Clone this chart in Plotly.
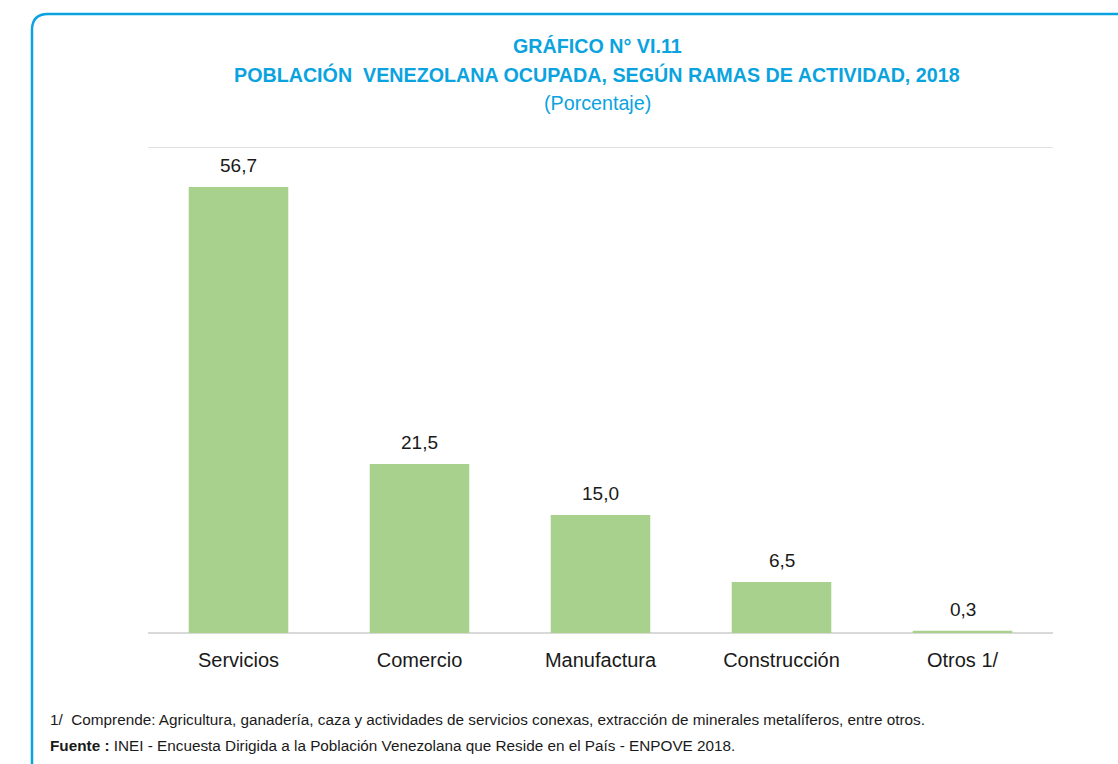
import plotly.graph_objects as go

# Población venezolana ocupada por rama de actividad, 2018 (%)
categorias = ["Servicios", "Comercio", "Manufactura", "Construcción", "Otros 1/"]
porcentajes = [56.7, 21.5, 15.0, 6.5, 0.3]
y_max = 61.8

W, H = 1118, 764
L, R, T, B = 148, 1053, 147, 633  # plot area in pixels

FONT = "Liberation Sans Narrow, Arial Narrow, Liberation Sans, Arial, sans-serif"
AZUL = "#0AA3E0"
VERDE = "#A9D18E"
GRIS = "#D9D9D9"


def px(x):
    return (x - L) / (R - L)


def py(y):
    return (B - y) / (B - T)


fig = go.Figure(
    go.Bar(
        x=categorias,
        y=porcentajes,
        marker=dict(color=VERDE, line=dict(width=0)),
        hoverinfo="skip",
    )
)

# value labels above each bar
for c, v in zip(categorias, porcentajes):
    fig.add_annotation(
        x=c, y=v, xref="x", yref="y",
        text=f"{v:.1f}".replace(".", ","),
        showarrow=False, yanchor="bottom", yshift=9,
        font=dict(family=FONT, size=19, color="#1a1a1a"),
    )

# titles
titulos = [
    ("<b>GRÁFICO N° VI.11</b>", 46),
    ("<b>POBLACIÓN  VENEZOLANA OCUPADA, SEGÚN RAMAS DE ACTIVIDAD, 2018</b>", 74),
    ("(Porcentaje)", 103),
]
for txt, yy in titulos:
    fig.add_annotation(
        x=px(597), y=py(yy), xref="paper", yref="paper",
        text=txt, showarrow=False, xanchor="center", yanchor="middle",
        font=dict(family=FONT, size=19.7, color=AZUL),
    )

# footnotes
notas = [
    ("1/  Comprende: Agricultura, ganadería, caza y actividades de servicios conexas, extracción de minerales metalíferos, entre otros.", 719),
    ("<b>Fuente :</b> INEI - Encuesta Dirigida a la Población Venezolana que Reside en el País - ENPOVE 2018.", 745),
]
for txt, yy in notas:
    fig.add_annotation(
        x=px(48), y=py(yy), xref="paper", yref="paper",
        text=txt, showarrow=False, xanchor="left", yanchor="middle",
        font=dict(family=FONT, size=15.3, color="#1a1a1a"),
    )

# top gridline of the plot area
fig.add_shape(
    type="line", xref="paper", yref="y", x0=0, x1=1, y0=y_max, y1=y_max,
    line=dict(color=GRIS, width=1.5), layer="below",
)

# rounded frame around the figure
x0, y0, r = 32, 14, 16
path = (
    f"M {px(x0)},{py(H + 20)} L {px(x0)},{py(y0 + r)} "
    f"Q {px(x0)},{py(y0)} {px(x0 + r)},{py(y0)} L {px(W + 20)},{py(y0)}"
)
fig.add_shape(
    type="path", path=path, xref="paper", yref="paper",
    line=dict(color=AZUL, width=2.5), layer="above",
)

fig.update_layout(
    width=W, height=H,
    margin=dict(l=L, r=W - R, t=T, b=H - B),
    paper_bgcolor="white", plot_bgcolor="white",
    bargap=0.45,
    showlegend=False,
    xaxis=dict(
        showline=False, showgrid=False, ticks="",
        tickfont=dict(family=FONT, size=20, color="#1a1a1a"),
        ticklabelstandoff=13,
    ),
    yaxis=dict(
        range=[0, y_max], showticklabels=False, showgrid=False,
        zeroline=True, zerolinecolor=GRIS, zerolinewidth=2,
        showline=False,
    ),
)

fig.write_html("out.html")
